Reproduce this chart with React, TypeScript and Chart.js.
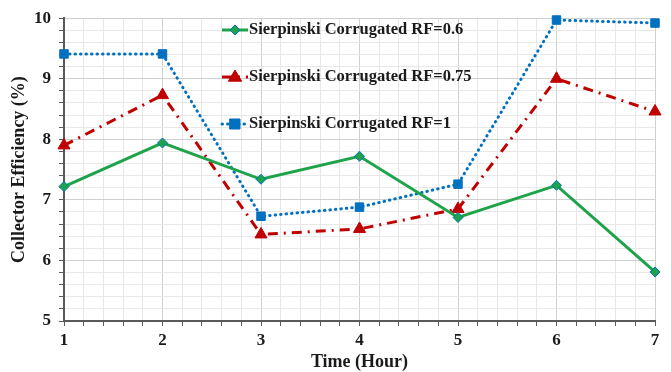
import React, { useEffect, useRef } from "react";
import { Chart, registerables } from "chart.js";

Chart.register(...registerables);

const hours = [1, 2, 3, 4, 5, 6, 7];
const rf06 = [7.22, 7.94, 7.34, 7.72, 6.71, 7.24, 5.81];
const rf075 = [7.9, 8.73, 6.43, 6.52, 6.85, 9.0, 8.46];
const rf1 = [9.41, 9.41, 6.73, 6.88, 7.26, 9.97, 9.92];
const seriesNames = [
  "Sierpinski Corrugated RF=0.6",
  "Sierpinski Corrugated RF=0.75",
  "Sierpinski Corrugated RF=1",
];
const xTitle = "Time (Hour)";
const yTitle = "Collector Efficiency (%)";

const GREEN = "#1fa34a";
const RED = "#c00000";
const BLUE = "#0070c0";
const FONT = "'Liberation Serif', 'Times New Roman', serif";

const isInt = (v: number) => Math.abs(v - Math.round(v)) < 1e-6;

function drawMarker(ctx: CanvasRenderingContext2D, kind: string, x: number, y: number, r: number) {
  ctx.beginPath();
  if (kind === "diamond") {
    ctx.moveTo(x, y - r);
    ctx.lineTo(x + r, y);
    ctx.lineTo(x, y + r);
    ctx.lineTo(x - r, y);
  } else if (kind === "triangle") {
    ctx.moveTo(x, y - r);
    ctx.lineTo(x + r * 0.95, y + r * 0.6);
    ctx.lineTo(x - r * 0.95, y + r * 0.6);
  } else {
    ctx.rect(x - r, y - r, 2 * r, 2 * r);
  }
  ctx.closePath();
}

const legendPlugin = {
  id: "customLegend",
  afterDraw(chart: any) {
    const ctx = chart.ctx as CanvasRenderingContext2D;
    const items = [
      { name: seriesNames[0], color: GREEN, dash: [] as number[], cap: "butt", marker: "diamond", r: 5, border: BLUE },
      { name: seriesNames[1], color: RED, dash: [10, 6, 2, 6], cap: "butt", marker: "triangle", r: 7, border: RED },
      { name: seriesNames[2], color: BLUE, dash: [0.5, 5], cap: "round", marker: "square", r: 5, border: BLUE },
    ];
    const ys = [30, 77, 124];
    const x0 = 222;
    const x1 = 248;
    items.forEach((it, i) => {
      const y = ys[i];
      ctx.save();
      ctx.strokeStyle = it.color;
      ctx.lineWidth = 3;
      ctx.setLineDash(it.dash);
      ctx.lineCap = it.cap as CanvasLineCap;
      ctx.beginPath();
      ctx.moveTo(x0, y);
      ctx.lineTo(x1, y);
      ctx.stroke();
      ctx.setLineDash([]);
      drawMarker(ctx, it.marker, (x0 + x1) / 2, y, it.r);
      ctx.fillStyle = it.color;
      ctx.fill();
      ctx.lineWidth = 1;
      ctx.strokeStyle = it.border;
      ctx.stroke();
      ctx.fillStyle = "#1a1a1a";
      ctx.font = `bold 16.5px ${FONT}`;
      ctx.textBaseline = "middle";
      ctx.textAlign = "left";
      ctx.fillText(it.name, x1 + 1, y);
      ctx.restore();
    });
  },
};

export default function App() {
  const ref = useRef<HTMLCanvasElement | null>(null);
  useEffect(() => {
    if (!ref.current) return;
    const mk = (arr: number[]) => hours.map((h, i) => ({ x: h, y: arr[i] }));
    const chart = new Chart(ref.current, {
      type: "line",
      data: {
        datasets: [
          {
            label: seriesNames[0],
            data: mk(rf06),
            borderColor: GREEN,
            backgroundColor: GREEN,
            borderWidth: 3,
            pointStyle: "rectRot",
            pointRadius: 5,
            pointBackgroundColor: GREEN,
            pointBorderColor: BLUE,
            pointBorderWidth: 1,
            tension: 0,
            clip: false,
          },
          {
            label: seriesNames[1],
            data: mk(rf075),
            borderColor: RED,
            backgroundColor: RED,
            borderWidth: 3,
            borderDash: [10, 6, 2, 6],
            pointStyle: "triangle",
            pointRadius: 7,
            pointBackgroundColor: RED,
            pointBorderColor: RED,
            pointBorderWidth: 1,
            tension: 0,
            clip: false,
          },
          {
            label: seriesNames[2],
            data: mk(rf1),
            borderColor: BLUE,
            backgroundColor: BLUE,
            borderWidth: 3,
            borderDash: [0.5, 5],
            borderCapStyle: "round",
            pointStyle: "rect",
            pointRadius: 6,
            pointBackgroundColor: BLUE,
            pointBorderColor: BLUE,
            pointBorderWidth: 1,
            tension: 0,
            clip: false,
          },
        ],
      },
      options: {
        animation: false,
        responsive: true,
        maintainAspectRatio: false,
        layout: { padding: { top: 18, right: 16, left: 0, bottom: 0 } },
        plugins: { legend: { display: false }, tooltip: { enabled: false } },
        scales: {
          x: {
            type: "linear",
            min: 1,
            max: 7,
            afterFit: (s: any) => {
              s.height = 51;
            },
            ticks: {
              stepSize: 0.2,
              autoSkip: false,
              maxRotation: 0,
              padding: 4,
              color: "#1a1a1a",
              font: { family: FONT, size: 17, weight: "bold" },
              callback: (v: any) => (isInt(Number(v)) ? String(Math.round(Number(v))) : ""),
            },
            grid: {
              color: (c: any) => (isInt(c.tick.value) ? "#d0d0d0" : "#e8e8e8"),
              lineWidth: 1,
              tickLength: 5,
              tickColor: "#595959",
            },
            border: { color: "#595959", width: 2 },
            title: {
              display: true,
              text: xTitle,
              color: "#1a1a1a",
              font: { family: FONT, size: 18, weight: "bold" },
              padding: { top: 0, bottom: -1 },
            },
          },
          y: {
            type: "linear",
            min: 5,
            max: 10,
            afterFit: (s: any) => {
              s.width = 64;
            },
            ticks: {
              stepSize: 0.2,
              autoSkip: false,
              padding: 8,
              color: "#1a1a1a",
              font: { family: FONT, size: 17, weight: "bold" },
              callback: (v: any) => (isInt(Number(v)) ? String(Math.round(Number(v))) : ""),
            },
            grid: {
              color: (c: any) => (isInt(c.tick.value) ? "#d0d0d0" : "#e8e8e8"),
              lineWidth: 1,
              tickLength: 5,
              tickColor: "#595959",
            },
            border: { color: "#595959", width: 2 },
            title: {
              display: true,
              text: yTitle,
              color: "#1a1a1a",
              font: { family: FONT, size: 18, weight: "bold" },
              padding: { top: 9, bottom: 0 },
            },
          },
        },
      },
      plugins: [legendPlugin],
    } as any);
    return () => chart.destroy();
  }, []);
  return (
    <div style={{ position: "fixed", left: 0, top: 0, width: 671, height: 372, background: "#fff" }}>
      <canvas ref={ref} />
    </div>
  );
}
